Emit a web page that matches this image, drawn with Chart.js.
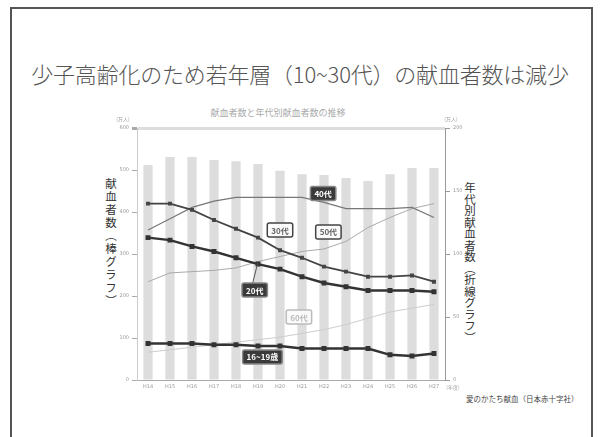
<!DOCTYPE html>
<html lang="ja">
<head>
<meta charset="utf-8">
<script src="https://cdn.jsdelivr.net/npm/chart.js@4.4.0/dist/chart.umd.min.js"></script>
<style>
  body { margin: 0; background: #fff; font-family: "Noto Sans CJK JP", sans-serif; }
  #wrap { position: relative; width: 600px; height: 437px; overflow: hidden; }
  #frame { position: absolute; left: 10px; top: 7px; width: 579px; height: 460px; border: 2px solid #555; }
  #title { position: absolute; left: 0; width: 600px; top: 57px; text-align: center; font-size: 22px; font-weight: 300; color: #555; letter-spacing: -0.2px; }
  #sub { position: absolute; left: 0; width: 556px; top: 106px; text-align: center; font-size: 9px; color: #aaa; }
  .vt { position: absolute; writing-mode: vertical-rl; font-size: 11.5px; color: #333; }
  #src { position: absolute; left: 466px; top: 393px; font-size: 7.5px; color: #444; }
  canvas { position: absolute; left: 0; top: 0; }
</style>
</head>
<body>
<div id="wrap">
  <div id="frame"></div>
  <div id="title">少子高齢化のため若年層（10~30代）の献血者数は減少</div>
  <div id="sub">献血者数と年代別献血者数の推移</div>
  <div class="vt" style="left:103px; top:178px; letter-spacing:1.5px;">献血者数（棒グラフ）</div>
  <div class="vt" style="left:462px; top:182px;">年代別献血者数（折線グラフ）</div>
  <div id="src">愛のかたち献血（日本赤十字社）</div>
  <canvas id="chart" width="600" height="437"></canvas>
</div>
<script>
// 年度ラベル
const years = ['H14', 'H15', 'H16', 'H17', 'H18', 'H19', 'H20', 'H21', 'H22', 'H23', 'H24', 'H25', 'H26', 'H27'];
// 献血者数（棒グラフ・万人）
const totalDonors = [512, 531, 531, 524, 521, 514, 498, 490, 488, 481, 474, 490, 505, 505];
// 年代別献血者数（折線グラフ・万人）
const age16to19 = [29, 29, 29, 28, 28, 27, 27, 25, 25, 25, 25, 20, 19, 21];
const age20s = [113, 111, 106, 102, 97, 92, 88, 82, 77, 74, 71, 71, 71, 70];
const age30s = [140, 140, 135, 127, 120, 113, 103, 97, 90, 86, 82, 82, 83, 78];
const age40s = [119, 128, 137, 142, 145, 145, 145, 145, 141, 136, 136, 136, 137, 129];
const age50s = [78, 85, 86, 87, 89, 94, 98, 102, 104, 110, 121, 129, 136, 140];
const age60s = [22, 24, 26, 28, 30, 32, 34, 37, 40, 44, 49, 54, 57, 60];

// 吹き出しラベル（年度インデックス, 右軸の値）
const tagText = ['40代', '30代', '50代', '20代', '60代', '16~19歳'];
const tagIndex = [7.96, 6.0, 8.2, 4.85, 6.86, 5.2];
const tagValue = [148, 119, 117.5, 71.4, 50, 18.3];
const tagDark = [true, false, false, true, false, true];

const tickFont = { size: 5, family: 'DejaVu Sans' };

// ラベル類を描くプラグイン
const tagPlugin = {
    id: 'tags',
    afterDatasetsDraw(chart) {
        const { ctx, scales: { x, y, y1 } } = chart;
        ctx.save();
        ctx.font = 'bold 8px "Noto Sans CJK JP"';
        ctx.textAlign = 'center';
        ctx.textBaseline = 'middle';
        tagText.forEach((t, i) => {
            const cx = x.getPixelForValue(tagIndex[i]);
            const cy = y1.getPixelForValue(tagValue[i]);
            const w = ctx.measureText(t).width + 8;
            const h = 14;
            // 20代は線への引き出し線
            if (i === 3) {
                ctx.strokeStyle = '#555';
                ctx.lineWidth = 1;
                ctx.beginPath();
                ctx.moveTo(cx - 2, cy - h / 2);
                ctx.lineTo(x.getPixelForValue(4.99), y1.getPixelForValue(92.9));
                ctx.stroke();
            }
            ctx.lineWidth = 1.5;
            if (tagDark[i]) {
                ctx.fillStyle = '#3a3a3a';
                ctx.strokeStyle = '#888';
            } else {
                ctx.fillStyle = '#fafafa';
                ctx.strokeStyle = i === 4 ? '#bbb' : '#444';
            }
            ctx.beginPath();
            ctx.roundRect(cx - w / 2, cy - h / 2, w, h, 2);
            ctx.fill();
            ctx.stroke();
            ctx.fillStyle = tagDark[i] ? '#fff' : (i === 4 ? '#bbb' : '#666');
            ctx.fillText(t, cx, cy + 0.5);
        });
        // 単位
        ctx.font = '5px "Noto Sans CJK JP"';
        ctx.fillStyle = '#999';
        ctx.fillText('(万人)', y.right - 14, chart.chartArea.top - 9);
        ctx.fillText('(万人)', y1.left + 6, chart.chartArea.top - 9);
        ctx.fillText('(年度)', y1.left + 8, x.top + 7);
        ctx.restore();
    }
};

const lineSet = (label, data, color, width, radius) => ({
    type: 'line', label, data, yAxisID: 'y1', order: 1,
    borderColor: color, backgroundColor: color, borderWidth: width,
    pointStyle: 'rect', pointRadius: radius, tension: 0
});

new Chart(document.getElementById('chart'), {
    data: {
        labels: years,
        datasets: [
            lineSet('16~19歳', age16to19, '#333', 2.4, 1.8),
            lineSet('20代', age20s, '#333', 2.4, 1.8),
            lineSet('30代', age30s, '#444', 1.8, 1.5),
            lineSet('40代', age40s, '#777', 1.2, 0),
            lineSet('50代', age50s, '#aaa', 1, 0),
            lineSet('60代', age60s, '#ccc', 1, 0),
            {
                type: 'bar', label: '献血者数', data: totalDonors, yAxisID: 'y', order: 10,
                backgroundColor: '#dddddd', barPercentage: 0.42, categoryPercentage: 1
            }
        ]
    },
    options: {
        responsive: false,
        animation: false,
        layout: { padding: { left: 100, right: 115, top: 128, bottom: 39 } },
        plugins: { legend: { display: false }, tooltip: { enabled: false } },
        scales: {
            x: {
                grid: { display: false, drawTicks: false },
                border: { color: '#aaa' },
                ticks: { font: tickFont, color: '#999', maxRotation: 0, autoSkip: false, padding: 4 },
                afterFit: s => { s.height = 18; }
            },
            y: {
                position: 'left', min: 0, max: 600,
                ticks: { stepSize: 100, font: tickFont, color: '#999', padding: 3 },
                grid: {
                    color: c => c.tick.value === 600 ? '#ddd' : 'rgba(0,0,0,0)',
                    lineWidth: c => c.tick.value === 600 ? 3 : 1,
                    tickColor: '#aaa', tickLength: 5
                },
                border: { color: '#ccc' },
                afterFit: s => { s.width = 37; }
            },
            y1: {
                position: 'right', min: 0, max: 200,
                ticks: { stepSize: 50, font: tickFont, color: '#999', padding: 3 },
                grid: { drawOnChartArea: false, tickColor: '#999', tickLength: 5 },
                border: { color: '#999' },
                afterFit: s => { s.width = 40; }
            }
        }
    },
    plugins: [tagPlugin]
});
</script>
</body>
</html>
